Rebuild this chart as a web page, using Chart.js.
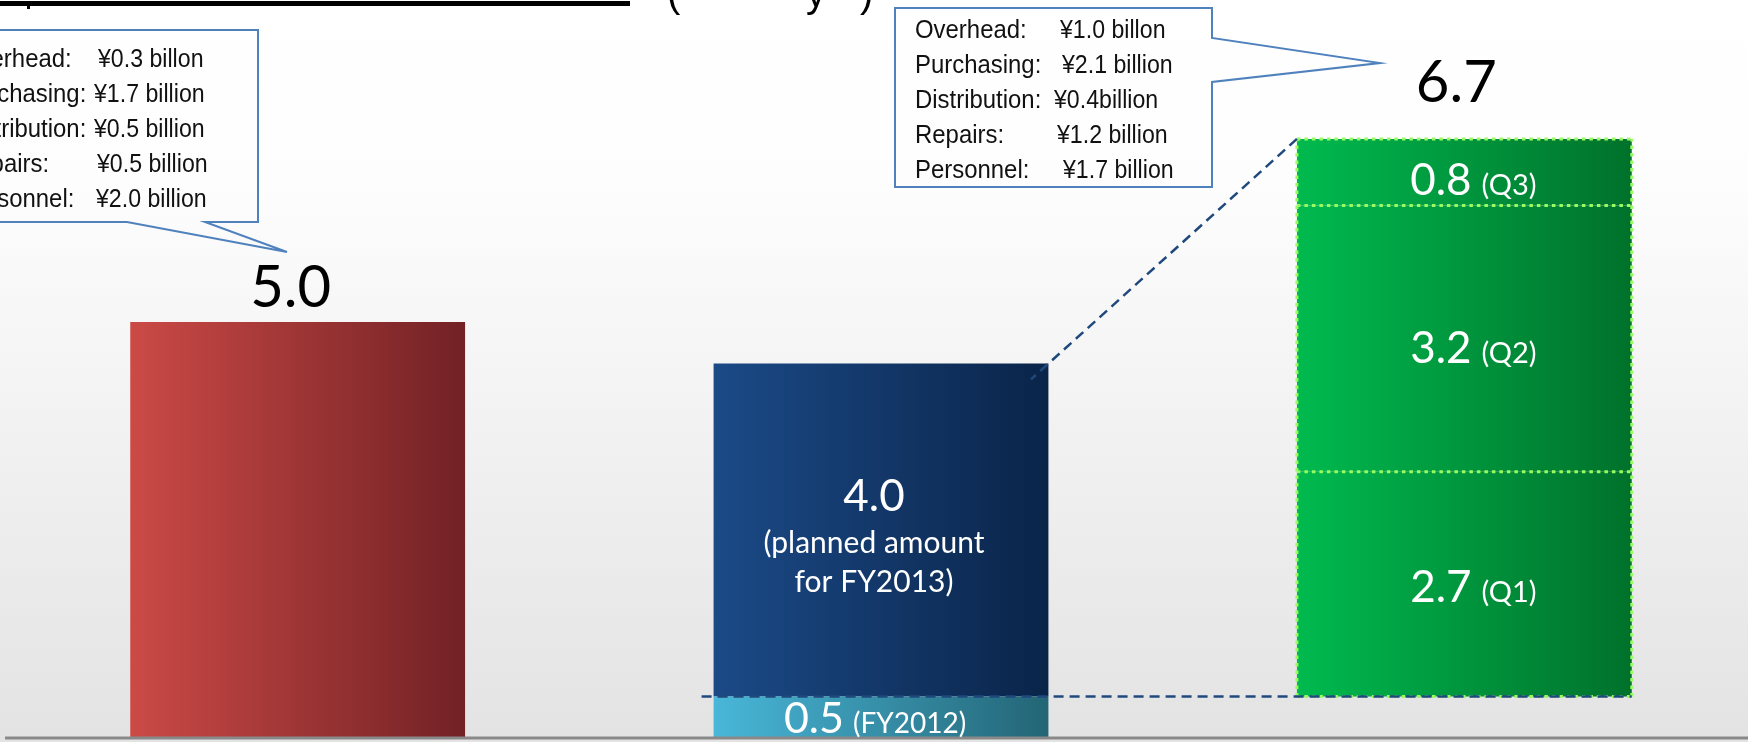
<!DOCTYPE html>
<html>
<head>
<meta charset="utf-8">
<script src="https://cdn.jsdelivr.net/npm/chart.js@4/dist/chart.umd.min.js"></script>
<style>
  html, body { margin: 0; padding: 0; background: #fff; overflow: hidden; }
  #wrap { width: 1756px; height: 742px; position: relative; }
</style>
</head>
<body>
<div id="wrap"><canvas id="costChart"></canvas></div>
<script>
// data (billion yen)
const categories = ["FY2012", "FY2013 plan", "FY2013 Q1-Q3"];
const baseValues = [5.0, 0.5, 0.5];          // third entry is the hidden offset under the green bar
const plannedValues = [null, 4.0, null];
const quarterValues = [2.7, 3.2, 0.8];
const quarterLabels = ["(Q1)", "(Q2)", "(Q3)"];
const plannedNote = ["(planned amount", "for FY2013)"];
const baseNote = "(FY2012)";

const breakdownLeft = [
    ["Overhead:", "¥0.3 billon"],
    ["Purchasing:", "¥1.7 billion"],
    ["Distribution:", "¥0.5 billion"],
    ["Repairs:", "¥0.5 billion"],
    ["Personnel:", "¥2.0 billion"]
];
const breakdownRight = [
    ["Overhead:", "¥1.0 billon"],
    ["Purchasing:", "¥2.1 billion"],
    ["Distribution:", "¥0.4billion"],
    ["Repairs:", "¥1.2 billion"],
    ["Personnel:", "¥1.7 billion"]
];

const BAR_PCT = 0.574;
const numFont = "Lato, 'Open Sans', sans-serif";
const boxFont = "'Liberation Sans', Arial, sans-serif";

function hGrad(context, from, to) {
    const chart = context.chart;
    if (!chart.chartArea) return from;
    const xs = chart.scales.x;
    const cx = xs.getPixelForValue(context.dataIndex);
    const w = (xs.width / categories.length) * BAR_PCT;
    const g = chart.ctx.createLinearGradient(cx - w / 2, 0, cx + w / 2, 0);
    g.addColorStop(0, from);
    g.addColorStop(1, to);
    return g;
}

const greenFill = (c) => hGrad(c, "#00BA4F", "#00712B");

const datasets = [
    {
        label: "base",
        data: baseValues,
        backgroundColor: function (c) {
            if (c.dataIndex === 0) return hGrad(c, "#CB4A46", "#722125");
            if (c.dataIndex === 1) return hGrad(c, "#49B7D9", "#236575");
            return "rgba(0,0,0,0)";
        }
    },
    {
        label: "planned",
        data: plannedValues,
        backgroundColor: (c) => hGrad(c, "#1B4A87", "#0A2449")
    }
].concat(quarterValues.map((v, i) => ({
    label: quarterLabels[i],
    data: [null, null, v],
    backgroundColor: greenFill
})));

const background = {
    id: "background",
    beforeDraw(chart) {
        const ctx = chart.ctx;
        const g = ctx.createLinearGradient(0, 0, 0, chart.height);
        g.addColorStop(0, "#ffffff");
        g.addColorStop(0.25, "#fdfdfd");
        g.addColorStop(1, "#e3e3e3");
        ctx.save();
        ctx.fillStyle = g;
        ctx.fillRect(0, 0, chart.width, chart.height);
        ctx.restore();
    }
};

function squeezedText(ctx, txt, x, y, sx) {
    ctx.save();
    ctx.translate(x, y);
    ctx.scale(sx, 1);
    ctx.fillText(txt, 0, 0);
    ctx.restore();
}

function callout(ctx, path, lines, textX, firstBase, valueOffsets) {
    ctx.save();
    ctx.beginPath();
    path.forEach((p, i) => i ? ctx.lineTo(p[0], p[1]) : ctx.moveTo(p[0], p[1]));
    ctx.closePath();
    ctx.strokeStyle = "#4F81BD";
    ctx.lineWidth = 2;
    ctx.stroke();
    ctx.fillStyle = "#111";
    ctx.font = "26px " + boxFont;
    ctx.textAlign = "left";
    ctx.textBaseline = "alphabetic";
    lines.forEach((ln, i) => {
        const y = firstBase + i * 35;
        squeezedText(ctx, ln[0], textX, y, 0.92);
        squeezedText(ctx, ln[1], textX + valueOffsets[i], y, 0.89);
    });
    ctx.restore();
}

// big number followed by a smaller note, centred as a group
function pairLabel(ctx, big, small, bigSize, smallSize, cx, y, gap) {
    ctx.font = bigSize + "px " + numFont;
    const wb = ctx.measureText(big).width;
    ctx.font = smallSize + "px " + numFont;
    const ws = ctx.measureText(small).width;
    const x0 = cx - (wb + gap + ws) / 2;
    ctx.textAlign = "left";
    ctx.font = bigSize + "px " + numFont;
    ctx.fillText(big, x0, y);
    ctx.font = smallSize + "px " + numFont;
    ctx.fillText(small, x0 + wb + gap, y);
}

function dotted(ctx, x1, y1, x2, y2) {
    ctx.beginPath();
    ctx.moveTo(x1, y1);
    ctx.lineTo(x2, y2);
    ctx.stroke();
}

const overlay = {
    id: "overlay",
    afterDatasetsDraw(chart) {
        const ctx = chart.ctx;
        const ys = chart.scales.y;
        const red = chart.getDatasetMeta(0).data[0];
        const lightBlue = chart.getDatasetMeta(0).data[1];
        const blue = chart.getDatasetMeta(1).data[1];
        const greens = quarterValues.map((v, i) => chart.getDatasetMeta(2 + i).data[2]);
        const gTop = greens[greens.length - 1];
        const gBot = greens[0];

        ctx.save();
        // axis line
        const y0 = ys.getPixelForValue(0);
        ctx.strokeStyle = "#898989";
        ctx.lineWidth = 3;
        dotted(ctx, 5, y0, chart.width, y0);

        // dotted light green outline of the quarter segments
        ctx.strokeStyle = "#98FB60";
        ctx.lineWidth = 3;
        ctx.setLineDash([3.5, 4]);
        const gl = gTop.x - gTop.width / 2, gr = gTop.x + gTop.width / 2;
        dotted(ctx, gl, gBot.base, gl, gTop.y);
        dotted(ctx, gr, gBot.base, gr, gTop.y);
        dotted(ctx, gl, gTop.y, gr, gTop.y);
        greens.forEach(el => dotted(ctx, gl, el.base, gr, el.base));

        // dashed connector lines
        ctx.strokeStyle = "#1F497D";
        ctx.lineWidth = 2.5;
        ctx.setLineDash([10, 6]);
        const yHalf = ys.getPixelForValue(baseValues[1]);
        dotted(ctx, blue.x - blue.width / 2 - 12, yHalf, gr, yHalf);
        const ax = gl, ay = gTop.y;
        const bx = blue.x + blue.width / 2, by = blue.y;
        dotted(ctx, ax, ay, bx + (bx - ax) * 0.07, by + (by - ay) * 0.07);
        ctx.setLineDash([]);

        // totals above bars
        ctx.fillStyle = "#000";
        ctx.textAlign = "center";
        ctx.textBaseline = "alphabetic";
        ctx.font = "58px " + numFont;
        ctx.fillText(baseValues[0].toFixed(1), red.x - 7, red.y - 15);
        const total = quarterValues.reduce((a, b) => a + b, 0);
        ctx.fillText(total.toFixed(1), gTop.x - 8, gTop.y - 37);

        // labels inside bars
        ctx.fillStyle = "#fff";
        const bMid = (blue.y + blue.base) / 2;
        const bx0 = blue.x - 7;
        ctx.font = "44px " + numFont;
        ctx.fillText(plannedValues[1].toFixed(1), bx0, bMid - 19);
        ctx.font = "30px " + numFont;
        ctx.fillText(plannedNote[0], bx0, bMid + 23);
        ctx.fillText(plannedNote[1], bx0, bMid + 62);

        pairLabel(ctx, baseValues[1].toFixed(1), baseNote, 43, 28, lightBlue.x - 6, y0 - 5, 9);

        const labelDy = [18, 24, 23];
        greens.forEach((el, i) => {
            const mid = (el.y + el.base) / 2;
            pairLabel(ctx, quarterValues[i].toFixed(1), quarterLabels[i], 44, 29, el.x + 9, mid + labelDy[i], 10);
        });
        ctx.restore();
    },
    afterDraw(chart) {
        const ctx = chart.ctx;
        ctx.save();
        // remains of the slide title above the chart
        ctx.fillStyle = "#000";
        ctx.fillRect(0, 1, 630, 5);
        ctx.fillRect(27, 1, 3, 8);
        ctx.font = "40px " + boxFont;
        ctx.textBaseline = "alphabetic";
        ctx.textAlign = "left";
        ctx.fillText("(", 667, 7);
        ctx.fillText("y", 806, 7);
        ctx.fillText(")", 860, 7);

        callout(ctx,
            [[-60, 30], [258, 30], [258, 222], [205, 222], [287, 252], [127, 222], [-60, 222]],
            breakdownLeft, -40, 67, [138, 134, 134, 137, 136]);
        callout(ctx,
            [[895, 8], [1212, 8], [1212, 38], [1380, 63], [1212, 82], [1212, 187], [895, 187]],
            breakdownRight, 915, 38, [145, 147, 139, 142, 148]);
        ctx.restore();
    }
};

new Chart(document.getElementById("costChart"), {
    type: "bar",
    data: { labels: categories, datasets: datasets },
    options: {
        responsive: true,
        maintainAspectRatio: false,
        animation: false,
        layout: { padding: { left: 6, right: 0, top: 0, bottom: 4 } },
        datasets: { bar: { barPercentage: BAR_PCT, categoryPercentage: 1.0, borderWidth: 0 } },
        scales: {
            x: { display: false, stacked: true },
            y: { display: false, stacked: true, min: 0, max: 8.87 }
        },
        plugins: { legend: { display: false }, tooltip: { enabled: false } }
    },
    plugins: [background, overlay]
});
</script>
</body>
</html>
